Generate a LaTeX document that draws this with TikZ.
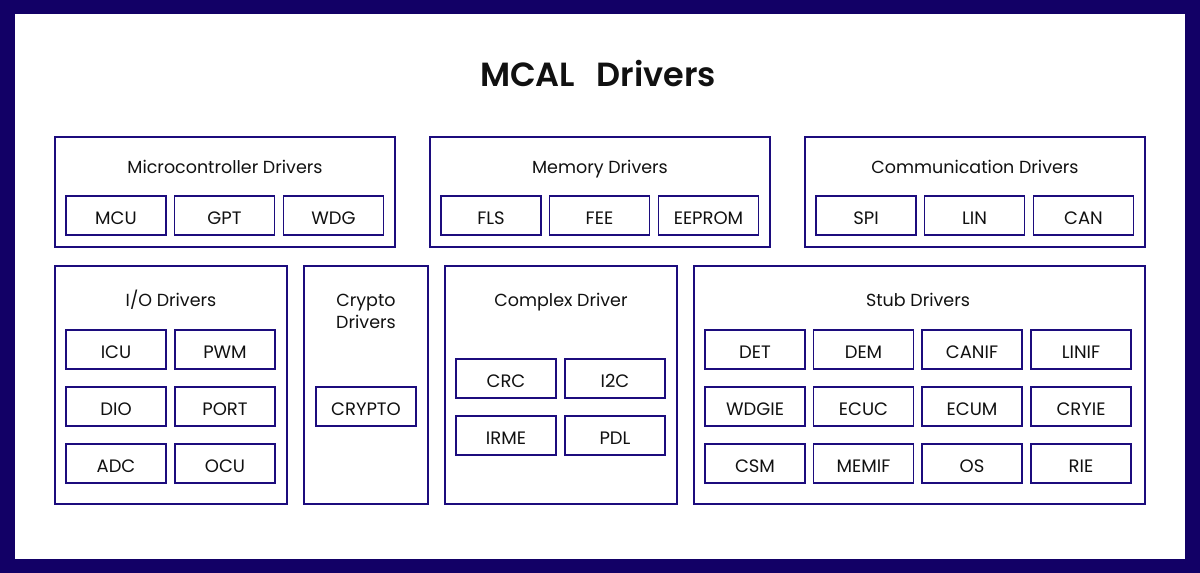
\documentclass[tikz,border=0pt]{standalone}
\usepackage{fontspec}
\setmainfont{Poppins}
\IfFontExistsTF{Poppins SemiBold}
  {\newfontfamily\mcaltitlefont{Poppins SemiBold}}
  {\newfontfamily\mcaltitlefont{Poppins}[FakeBold=1.5]}
\usepackage{xcolor}
\usetikzlibrary{positioning}

\definecolor{mcalnavy}{RGB}{18,0,102}
\definecolor{mcalline}{RGB}{28,12,125}
\definecolor{mcaltext}{RGB}{17,17,17}

\tikzset{
  grp/.style={draw=mcalline, line width=1.6pt, inner sep=0pt},
  grptitle/.style={anchor=base, font=\fontsize{17.5}{22.3}\selectfont, text=mcaltext, align=center},
  unit/.style={draw=mcalline, line width=1.6pt, minimum width=100pt, minimum height=39pt,
    inner sep=0pt, text height=18pt, text depth=0pt,
    font=\fontsize{18}{20}\selectfont, text=mcaltext}
}

\begin{document}
\begin{tikzpicture}[x=1pt, y=-1pt]
  % frame
  \fill[mcalnavy] (0,0) rectangle (1200,573);
  \fill[white] (15,14) rectangle (1185,559);
  \useasboundingbox (0,0) rectangle (1200,573);

  \node[anchor=base, font=\fontsize{33.5}{40}\mcaltitlefont, text=mcaltext] (title) at (598,86.7) {MCAL\hspace{0.4em} Drivers};

  % first row
  \node[grp, minimum width=340pt, minimum height=110pt] (micro) at (225,192) {};
  \node[grptitle] (microtitle) at (225,173.3) {Microcontroller Drivers};
  \node[unit] (mcu) at (116,215.5) {MCU};
  \node[unit] (gpt) at (224.5,215.5) {GPT};
  \node[unit] (wdg) at (333.5,215.5) {WDG};

  \node[grp, minimum width=340pt, minimum height=110pt] (memory) at (600,192) {};
  \node[grptitle] (memorytitle) at (600,173.3) {Memory Drivers};
  \node[unit] (fls) at (491,215.5) {FLS};
  \node[unit] (fee) at (599.5,215.5) {FEE};
  \node[unit] (eeprom) at (708.5,215.5) {EEPROM};

  \node[grp, minimum width=340pt, minimum height=110pt] (comm) at (975,192) {};
  \node[grptitle] (commtitle) at (975,173.3) {Communication Drivers};
  \node[unit] (spi) at (866,215.5) {SPI};
  \node[unit] (lin) at (974.5,215.5) {LIN};
  \node[unit] (can) at (1083.5,215.5) {CAN};

  % second row
  \node[grp, minimum width=232pt, minimum height=238pt] (io) at (171,385) {};
  \node[grptitle] (iotitle) at (171,306) {I/O Drivers};
  \node[unit] (icu) at (116,349.5) {ICU};
  \node[unit] (pwm) at (225,349.5) {PWM};
  \node[unit] (dio) at (116,406.5) {DIO};
  \node[unit] (port) at (225,406.5) {PORT};
  \node[unit] (adc) at (116,463.5) {ADC};
  \node[unit] (ocu) at (225,463.5) {OCU};

  \node[grp, minimum width=124pt, minimum height=238pt] (crypto) at (366,385) {};
  \node[grptitle] (cryptotitle) at (366,328.3) {Crypto\\Drivers};
  \node[unit] (cryptounit) at (366,406.5) {CRYPTO};

  \node[grp, minimum width=232pt, minimum height=238pt] (complex) at (561,385) {};
  \node[grptitle] (complextitle) at (561,306.5) {Complex Driver};
  \node[unit] (crc) at (506,378.5) {CRC};
  \node[unit] (itwoc) at (615,378.5) {I2C};
  \node[unit] (irme) at (506,435.5) {IRME};
  \node[unit] (pdl) at (615,435.5) {PDL};

  \node[grp, minimum width=451pt, minimum height=238pt] (stub) at (919.5,385) {};
  \node[grptitle] (stubtitle) at (918,306) {Stub Drivers};
  \node[unit] (det) at (755,349.5) {DET};
  \node[unit] (dem) at (863.5,349.5) {DEM};
  \node[unit] (canif) at (972,349.5) {CANIF};
  \node[unit] (linif) at (1081,349.5) {LINIF};
  \node[unit] (wdgie) at (755,406.5) {WDGIE};
  \node[unit] (ecuc) at (863.5,406.5) {ECUC};
  \node[unit] (ecum) at (972,406.5) {ECUM};
  \node[unit] (cryie) at (1081,406.5) {CRYIE};
  \node[unit] (csm) at (755,463.5) {CSM};
  \node[unit] (memif) at (863.5,463.5) {MEMIF};
  \node[unit] (os) at (972,463.5) {OS};
  \node[unit] (rie) at (1081,463.5) {RIE};
\end{tikzpicture}
\end{document}
